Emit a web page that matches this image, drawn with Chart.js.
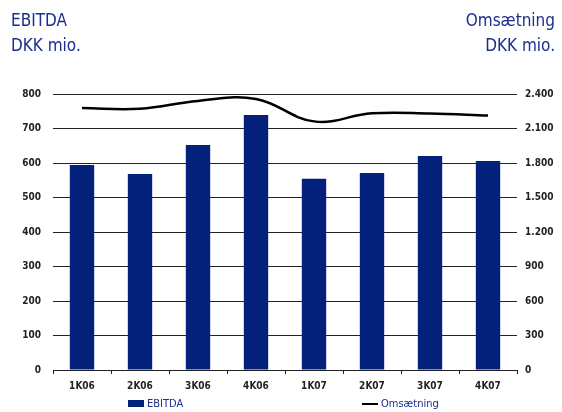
<!DOCTYPE html>
<html>
<head>
<meta charset="utf-8">
<script src="https://cdn.jsdelivr.net/npm/chart.js@4"></script>
<style>
  body { margin: 0; background: #fff; }
  #wrap { position: relative; width: 562px; height: 412px; font-family: "DejaVu Sans Condensed", "Liberation Sans Narrow", sans-serif; }
  canvas { position: absolute; left: 0; top: 0; }
  .title { position: absolute; color: #1b2d8f; font-size: 17px; line-height: 25px; }
  .legend { position: absolute; top: 397px; color: #1b2d8f; font-size: 11px; display: flex; align-items: center; }
  .swatch { display: inline-block; margin-right: 3px; }
</style>
</head>
<body>
<div id="wrap">
  <canvas id="chart" width="562" height="412"></canvas>
  <div class="title" style="left:11px; top:8px;">EBITDA<br>DKK mio.</div>
  <div class="title" style="right:7px; top:8px; text-align:right;">Omsætning<br>DKK mio.</div>
  <div class="legend" style="left:128px;"><span class="swatch" style="width:16px;height:7px;background:#03217a;"></span>EBITDA</div>
  <div class="legend" style="left:362px;"><span class="swatch" style="width:16px;height:2px;background:#000;"></span>Omsætning</div>
</div>
<script>
// ==========================
// DATA
// ==========================
const quarters = ["1K06", "2K06", "3K06", "4K06", "1K07", "2K07", "3K07", "4K07"];
const ebitda = [594, 568, 652, 739, 554, 571, 620, 606];
const omsaetning = [2278, 2272, 2340, 2357, 2162, 2232, 2230, 2212];
const leftTicks = [0, 100, 200, 300, 400, 500, 600, 700, 800];
const rightTicks = [0, 300, 600, 900, 1200, 1500, 1800, 2100, 2400];

const tickFont = { family: "'DejaVu Sans Condensed', 'Liberation Sans Narrow', sans-serif", size: 10, weight: "bold" };

function formatDK(v) {
  return v.toString().replace(/\B(?=(\d{3})+(?!\d))/g, ".");
}

new Chart(document.getElementById("chart"), {
  data: {
    labels: quarters,
    datasets: [
      {
        type: "line",
        label: "Omsætning",
        data: omsaetning,
        yAxisID: "y1",
        borderColor: "#000",
        borderWidth: 2.5,
        pointRadius: 0,
        tension: 0.4,
        order: 0,
      },
      {
        type: "bar",
        label: "EBITDA",
        data: ebitda,
        yAxisID: "y",
        backgroundColor: "#03217a",
        barPercentage: 0.42,
        categoryPercentage: 1,
        order: 1,
      },
    ],
  },
  options: {
    responsive: false,
    animation: false,
    layout: { padding: { top: 94, bottom: 12, left: 0, right: 0 } },
    plugins: { legend: { display: false }, tooltip: { enabled: false } },
    scales: {
      x: {
        grid: { drawOnChartArea: false, color: "#222", tickLength: 4, offset: true },
        border: { display: false },
        ticks: { color: "#222", font: tickFont, padding: 6 },
        afterFit: (s) => { s.height = 30; },
      },
      y: {
        position: "left",
        min: 0,
        max: 800,
        afterBuildTicks: (s) => { s.ticks = leftTicks.map((v) => ({ value: v })); },
        grid: { color: "#222", lineWidth: 1, drawTicks: false },
        border: { display: false },
        ticks: { color: "#222", font: tickFont, padding: 12 },
        afterFit: (s) => { s.width = 53; },
      },
      y1: {
        position: "right",
        min: 0,
        max: 2400,
        afterBuildTicks: (s) => { s.ticks = rightTicks.map((v) => ({ value: v })); },
        grid: { drawOnChartArea: false, drawTicks: false },
        border: { display: false },
        ticks: { color: "#222", font: tickFont, padding: 8, callback: (v) => formatDK(v) },
        afterFit: (s) => { s.width = 45; },
      },
    },
  },
});
</script>
</body>
</html>
